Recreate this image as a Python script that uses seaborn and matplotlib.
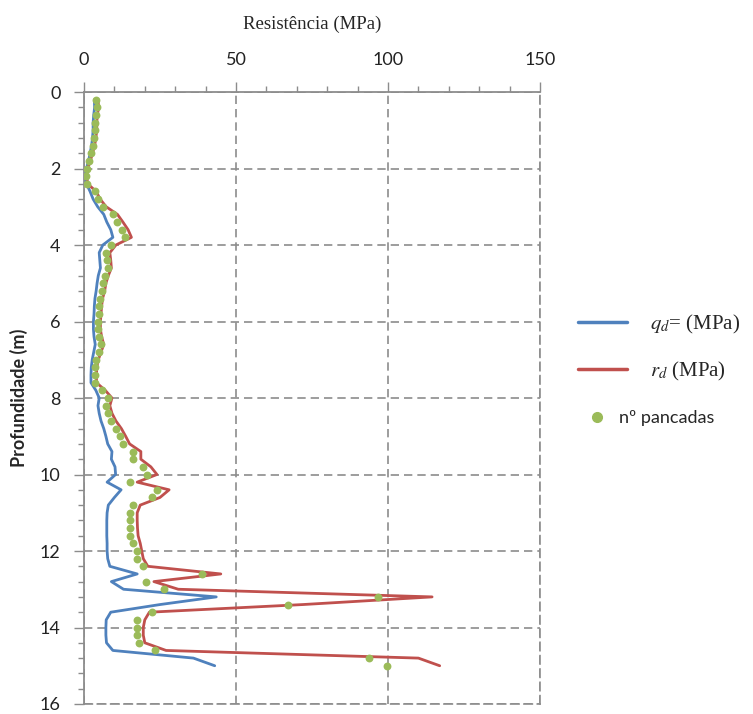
import matplotlib
matplotlib.use('Agg')
import matplotlib.pyplot as plt
import seaborn as sns
import pandas as pd
from matplotlib.lines import Line2D
from matplotlib.ticker import MultipleLocator

# profundidade (m) a cada 0.2 m
depth = [0.2, 0.4, 0.6, 0.8, 1.0, 1.2, 1.4, 1.6, 1.8, 2.0,
         2.2, 2.4, 2.6, 2.8, 3.0, 3.2, 3.4, 3.6, 3.8, 4.0,
         4.2, 4.4, 4.6, 4.8, 5.0, 5.2, 5.4, 5.6, 5.8, 6.0,
         6.2, 6.4, 6.6, 6.8, 7.0, 7.2, 7.4, 7.6, 7.8, 8.0,
         8.2, 8.4, 8.6, 8.8, 9.0, 9.2, 9.4, 9.6, 9.8, 10.0,
         10.2, 10.4, 10.6, 10.8, 11.0, 11.2, 11.4, 11.6, 11.8, 12.0,
         12.2, 12.4, 12.6, 12.8, 13.0, 13.2, 13.4, 13.6, 13.8, 14.0,
         14.2, 14.4, 14.6, 14.8, 15.0]

# qd (MPa)
qd = [3.4, 3.5, 3.2, 3.0, 3.0, 2.8, 2.5, 2.0, 1.5, 0.8,
      0.6, 0.8, 2.0, 3.0, 4.5, 6.5, 7.5, 8.8, 9.5, 6.2,
      5.0, 5.2, 5.4, 4.7, 4.3, 4.0, 3.6, 3.4, 3.3, 3.1,
      3.1, 3.3, 3.7, 3.2, 2.7, 2.4, 2.3, 2.3, 3.9, 5.0,
      4.6, 5.0, 5.6, 6.5, 7.2, 7.8, 9.2, 9.0, 10.2, 10.4,
      7.6, 12.2, 10.0, 8.0, 7.6, 7.5, 7.5, 7.5, 7.6, 7.6,
      7.8, 8.5, 17.5, 9.0, 13.0, 43.5, 25.0, 8.8, 7.3, 7.2,
      7.2, 7.4, 9.5, 36.0, 43.0]

# rd (MPa)
rd = [4.6, 4.8, 4.4, 4.2, 4.2, 3.9, 3.5, 2.8, 2.1, 1.2,
      0.9, 1.2, 4.0, 5.3, 7.3, 11.0, 12.8, 14.5, 15.6, 10.5,
      8.5, 8.8, 9.0, 8.0, 7.2, 6.8, 6.1, 5.8, 5.6, 5.4,
      5.4, 5.8, 6.5, 5.6, 4.7, 4.2, 4.1, 4.1, 7.0, 9.2,
      8.5, 9.2, 10.5, 12.3, 13.7, 15.0, 18.7, 18.7, 22.0, 24.0,
      17.5, 28.0, 25.0, 18.5, 17.5, 17.5, 17.6, 17.8, 18.5, 19.0,
      19.5, 21.0, 45.0, 23.0, 31.0, 114.5, 72.0, 21.5, 20.0, 19.5,
      19.5, 20.0, 27.0, 110.0, 117.0]

# nº pancadas
pancadas = [4.0, 4.2, 3.8, 3.6, 3.6, 3.4, 3.0, 2.4, 1.8, 1.0,
            0.8, 1.0, 3.5, 4.5, 6.2, 9.5, 11.0, 12.5, 13.4, 9.0,
            7.3, 7.5, 7.8, 6.8, 6.2, 5.8, 5.2, 5.0, 4.8, 4.6,
            4.6, 5.0, 5.6, 4.8, 4.0, 3.6, 3.5, 3.5, 6.0, 7.9,
            7.3, 7.9, 9.0, 10.5, 11.7, 12.8, 16.0, 16.0, 19.3, 20.8,
            15.1, 23.9, 22.4, 16.2, 15.1, 15.1, 15.1, 15.1, 16.2, 17.5,
            17.5, 19.3, 38.9, 20.4, 26.4, 96.8, 67.0, 22.4, 17.5, 17.5,
            17.5, 18.0, 23.5, 93.8, 99.8]

x_ticks = [0, 50, 100, 150]
y_ticks = [0, 2, 4, 6, 8, 10, 12, 14, 16]

BLUE = '#4F81BD'
RED = '#C0504D'
GREEN = '#9BBB59'
GRID = '#8C8C8C'

df = pd.DataFrame({'depth': depth, 'qd': qd, 'rd': rd, 'n': pancadas})

sns.set_theme(style='white')
plt.rcParams['font.family'] = ['Lato', 'DejaVu Sans']
plt.rcParams['mathtext.fontset'] = 'stix'

W, H = 753, 714
fig = plt.figure(figsize=(W / 100, H / 100), dpi=100)
ax = fig.add_axes([84 / W, 1 - 704 / H, (540 - 84) / W, (704 - 92) / H])

sns.lineplot(data=df, x='qd', y='depth', sort=False, orient='y', estimator=None,
             color=BLUE, linewidth=2.0, ax=ax, zorder=3)
sns.lineplot(data=df, x='rd', y='depth', sort=False, orient='y', estimator=None,
             color=RED, linewidth=2.0, ax=ax, zorder=3)
sns.scatterplot(data=df, x='n', y='depth', color=GREEN, s=32, linewidth=0,
                ax=ax, zorder=4)

ax.set_xlim(0, 150)
ax.set_ylim(16, 0)
ax.set_xticks(x_ticks)
ax.set_yticks(y_ticks)
ax.xaxis.set_minor_locator(MultipleLocator(10))
ax.yaxis.set_minor_locator(MultipleLocator(0.4))
ax.xaxis.tick_top()
ax.xaxis.set_label_position('top')

ax.tick_params(which='major', direction='out', length=7, width=1, color=GRID,
               labelsize=13, labelcolor='#222222')
ax.tick_params(axis='x', which='major', pad=10)
ax.tick_params(axis='y', which='major', pad=10)
ax.tick_params(which='minor', direction='out', length=4, width=1, color=GRID)
ax.tick_params(top=True, bottom=False, left=True, right=False, which='both')

ax.grid(True, which='major', color=GRID, linestyle=(0, (5, 3)), linewidth=1.2)
for side in ['left', 'top']:
    ax.spines[side].set_color(GRID)
    ax.spines[side].set_linewidth(1.3)
for side in ['right', 'bottom']:
    ax.spines[side].set_color(GRID)
    ax.spines[side].set_linewidth(1.2)
    ax.spines[side].set_linestyle((0, (5, 3)))

ax.set_xlabel('Resistência (MPa)', family='Liberation Serif', fontsize=13.5,
              labelpad=17)
ax.set_ylabel('Profundidade (m)', fontsize=13, fontweight='bold', labelpad=8)

# legenda das linhas
line_handles = [Line2D([], [], color=BLUE, linewidth=2.5),
                Line2D([], [], color=RED, linewidth=2.5)]
leg1 = fig.legend(line_handles, [r'$q_d$= (MPa)', r'$r_d$ (MPa)'],
                  loc='center left', bbox_to_anchor=(578 / W, 1 - 348 / H),
                  frameon=False, fontsize=15, handlelength=2.35,
                  handletextpad=1.1, labelspacing=1.15, borderpad=0,
                  borderaxespad=0)
for txt in leg1.get_texts():
    txt.set_family('Liberation Serif')

# legenda dos pontos
dot_handle = [Line2D([], [], color=GREEN, marker='o', markersize=7,
                     linestyle='none')]
leg2 = fig.legend(dot_handle, ['nº pancadas'], loc='center left',
                  bbox_to_anchor=(588 / W, 1 - 418 / H), frameon=False,
                  fontsize=13, handlelength=1.0, handletextpad=0.7,
                  borderpad=0, borderaxespad=0)

fig.savefig('out.png', dpi=100)
